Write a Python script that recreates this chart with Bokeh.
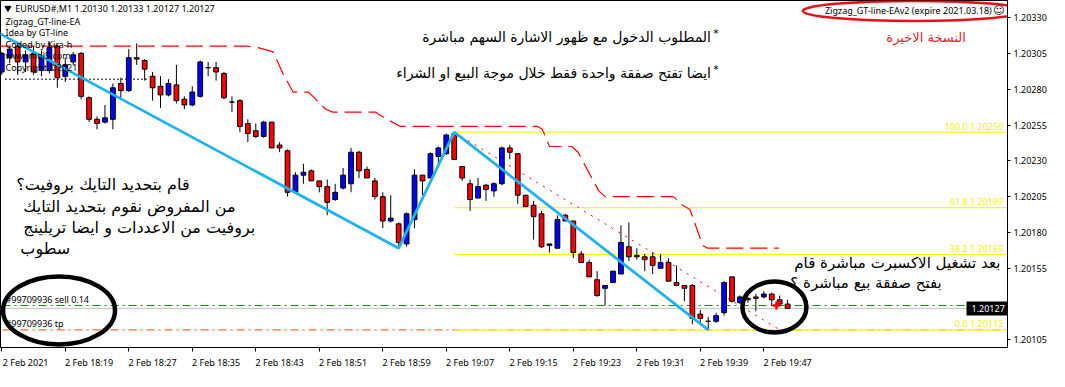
from bokeh.plotting import figure
from bokeh.models import ColumnDataSource, FixedTicker, PrintfTickFormatter, Range1d, LinearAxis
from bokeh.core.properties import value
from bokeh.embed import file_html
from bokeh.resources import INLINE

# ---------------- data ----------------
symbol = "EURUSD#,M1"
time_labels = ["2 Feb 2021", "2 Feb 18:19", "2 Feb 18:27", "2 Feb 18:35", "2 Feb 18:43",
               "2 Feb 18:51", "2 Feb 18:59", "2 Feb 19:07", "2 Feb 19:15", "2 Feb 19:23",
               "2 Feb 19:31", "2 Feb 19:39", "2 Feb 19:47"]
price_ticks = [1.20105, 1.20130, 1.20155, 1.20180, 1.20205, 1.20230, 1.20255, 1.20280, 1.20305, 1.20330]

opens = [1.20292, 1.20302, 1.20310, 1.20299, 1.20305, 1.20293, 1.20293, 1.20310, 1.20289, 1.20299,
         1.20305, 1.20274, 1.20259, 1.20257, 1.20259, 1.20284, 1.20279, 1.20302, 1.20300, 1.20289,
         1.20282, 1.20276, 1.20283, 1.20273, 1.20269, 1.20275, 1.20295, 1.20295, 1.20291, 1.20271,
         1.20272, 1.20256, 1.20251, 1.20247, 1.20257, 1.20241, 1.20237, 1.20208, 1.20220, 1.20223,
         1.20216, 1.20212, 1.20203, 1.20211, 1.20214, 1.20236, 1.20224, 1.20216, 1.20205, 1.20188,
         1.20186, 1.20172, 1.20189, 1.20220, 1.20218, 1.20233, 1.20235, 1.20249, 1.20226, 1.20214,
         1.20204, 1.20213, 1.20209, 1.20214, 1.20239, 1.20235, 1.20206, 1.20199, 1.20193, 1.20171,
         1.20169, 1.20192, 1.20188, 1.20165, 1.20159, 1.20147, 1.20141, 1.20145, 1.20151, 1.20170,
         1.20164, 1.20163, 1.20163, 1.20155, 1.20159, 1.20145, 1.20143, 1.20143, 1.20123, 1.20118,
         1.20118, 1.20124, 1.20149, 1.20131, 1.20134, 1.20135, 1.20135, 1.20137, 1.20133, 1.20130]
highs = [1.20306, 1.20310, 1.20312, 1.20307, 1.20310, 1.20307, 1.20313, 1.20311, 1.20302, 1.20306,
         1.20306, 1.20275, 1.20261, 1.20269, 1.20284, 1.20288, 1.20308, 1.20312, 1.20301, 1.20292,
         1.20289, 1.20287, 1.20297, 1.20275, 1.20282, 1.20300, 1.20299, 1.20299, 1.20292, 1.20275,
         1.20273, 1.20259, 1.20256, 1.20258, 1.20257, 1.20243, 1.20238, 1.20222, 1.20228, 1.20224,
         1.20216, 1.20217, 1.20214, 1.20225, 1.20239, 1.20237, 1.20226, 1.20218, 1.20208, 1.20206,
         1.20187, 1.20194, 1.20224, 1.20220, 1.20236, 1.20240, 1.20249, 1.20250, 1.20226, 1.20217,
         1.20218, 1.20214, 1.20215, 1.20240, 1.20241, 1.20235, 1.20206, 1.20202, 1.20195, 1.20172,
         1.20192, 1.20193, 1.20188, 1.20167, 1.20161, 1.20153, 1.20143, 1.20153, 1.20185, 1.20187,
         1.20169, 1.20165, 1.20166, 1.20165, 1.20162, 1.20157, 1.20143, 1.20144, 1.20126, 1.20121,
         1.20124, 1.20146, 1.20149, 1.20136, 1.20135, 1.20137, 1.20139, 1.20138, 1.20136, 1.20133]
lows = [1.20290, 1.20298, 1.20290, 1.20292, 1.20290, 1.20289, 1.20291, 1.20281, 1.20285, 1.20297,
        1.20273, 1.20257, 1.20252, 1.20256, 1.20252, 1.20274, 1.20278, 1.20297, 1.20286, 1.20272,
        1.20267, 1.20275, 1.20270, 1.20266, 1.20268, 1.20274, 1.20289, 1.20286, 1.20273, 1.20264,
        1.20250, 1.20243, 1.20246, 1.20246, 1.20239, 1.20236, 1.20205, 1.20207, 1.20214, 1.20216,
        1.20208, 1.20192, 1.20202, 1.20210, 1.20208, 1.20218, 1.20218, 1.20203, 1.20183, 1.20187,
        1.20169, 1.20170, 1.20183, 1.20206, 1.20218, 1.20228, 1.20234, 1.20231, 1.20216, 1.20195,
        1.20204, 1.20202, 1.20205, 1.20213, 1.20231, 1.20200, 1.20198, 1.20175, 1.20169, 1.20166,
        1.20169, 1.20188, 1.20162, 1.20159, 1.20149, 1.20135, 1.20129, 1.20145, 1.20151, 1.20160,
        1.20161, 1.20153, 1.20151, 1.20155, 1.20146, 1.20143, 1.20132, 1.20116, 1.20116, 1.20112,
        1.20117, 1.20122, 1.20131, 1.20130, 1.20131, 1.20125, 1.20134, 1.20129, 1.20129, 1.20127]
closes = [1.20305, 1.20308, 1.20299, 1.20304, 1.20292, 1.20303, 1.20309, 1.20288, 1.20297, 1.20304,
          1.20275, 1.20259, 1.20256, 1.20260, 1.20281, 1.20279, 1.20302, 1.20301, 1.20294, 1.20281,
          1.20276, 1.20284, 1.20272, 1.20269, 1.20278, 1.20299, 1.20295, 1.20292, 1.20274, 1.20271,
          1.20254, 1.20249, 1.20247, 1.20257, 1.20239, 1.20239, 1.20208, 1.20220, 1.20222, 1.20216,
          1.20212, 1.20201, 1.20208, 1.20220, 1.20236, 1.20223, 1.20218, 1.20205, 1.20188, 1.20190,
          1.20173, 1.20193, 1.20220, 1.20216, 1.20235, 1.20239, 1.20248, 1.20231, 1.20218, 1.20203,
          1.20212, 1.20210, 1.20214, 1.20239, 1.20236, 1.20206, 1.20198, 1.20191, 1.20170, 1.20172,
          1.20189, 1.20188, 1.20166, 1.20159, 1.20149, 1.20136, 1.20143, 1.20153, 1.20173, 1.20163,
          1.20163, 1.20161, 1.20157, 1.20159, 1.20146, 1.20143, 1.20141, 1.20120, 1.20120, 1.20118,
          1.20122, 1.20145, 1.20132, 1.20135, 1.20133, 1.20134, 1.20137, 1.20133, 1.20130, 1.20127]

zigzag_bar = [-1, 50, 57, 89]
zigzag_price = [1.20321, 1.20169, 1.20250, 1.20112]

stop_bar = [-1, 30.8, 32.3, 34.2, 35.5, 36.7, 38.6, 39.2, 40.8, 41.7, 47.1, 47.6, 49.2, 50.2,
            67.5, 68.1, 69.0, 71.8, 72.6, 75.2, 76.0, 84.6, 85.8, 86.7, 88.3, 88.9, 97.9]
stop_price = [1.20310, 1.20310, 1.20309, 1.20306, 1.20290, 1.20278, 1.20278, 1.20275, 1.20266,
              1.20264, 1.20264, 1.20262, 1.20257, 1.20254, 1.20254, 1.20252, 1.20240, 1.20240,
              1.20236, 1.20209, 1.20205, 1.20205, 1.20199, 1.20196, 1.20171, 1.20169, 1.20169]

trend_bar = [57, 98.3]
trend_price = [1.20250, 1.20111]

old_level_bar = [0.4, 18.3]
old_level_price = [1.20287, 1.20287]

fib_ratios = [1.0, 0.618, 0.382, 0.0]
fib_names = ["100.0", "61.8", "38.2", "0.0"]

bid_price = 1.20127
sell_price = 1.20129
tp_price = 1.20112
sell_lots = 0.14
ticket = 99709936
sell_bar = 97.6

# ---------------- figure ----------------
X0, X1 = -0.16, 126.7
Y0, Y1 = 1.200997, 1.203419

p = figure(width=1049, height=371, output_backend="svg", toolbar_location=None,
           x_range=Range1d(X0, X1), y_range=Range1d(Y0, Y1), y_axis_location="right",
           min_border_left=0, min_border_top=0, min_border_right=42, min_border_bottom=19)
p.background_fill_color = "white"
p.border_fill_color = "white"
p.outline_line_color = "black"
p.outline_line_width = 1
p.xgrid.visible = False
p.ygrid.visible = False

AX_FONT = "Noto Sans"
xt = list(range(0, 97, 8))
# MT4 style: tick marks (drawn as minor ticks) at the bars, labels starting at each tick
shift = 3.0
lab_ticks = [t + shift for t in xt]
p.xaxis.ticker = FixedTicker(ticks=lab_ticks, minor_ticks=xt)
p.xaxis.major_label_overrides = {t: lab for t, lab in zip(lab_ticks, time_labels)}
p.xaxis.major_tick_in = 0
p.xaxis.major_tick_out = 0
p.xaxis.major_tick_line_color = None
p.xaxis.minor_tick_in = 0
p.xaxis.minor_tick_out = 4
p.xaxis.minor_tick_line_color = "black"
p.xaxis.axis_line_color = "black"
p.xaxis.major_label_standoff = 4
p.xaxis.major_label_text_font = AX_FONT
p.xaxis.major_label_text_font_size = "9px"
p.xaxis.major_label_text_color = "black"

# price scale; the tick hidden under the bid box in the reference is left out
p.yaxis.ticker = FixedTicker(ticks=[t for t in price_ticks if abs(t - bid_price) > 0.0001])
p.yaxis.formatter = PrintfTickFormatter(format="%.5f")
p.yaxis.major_tick_in = 0
p.yaxis.major_tick_out = 3
p.yaxis.minor_tick_line_color = None
p.yaxis.axis_line_color = "black"
p.yaxis.major_label_standoff = 3
p.yaxis.major_label_text_font = AX_FONT
p.yaxis.major_label_text_font_size = "9px"
p.yaxis.major_label_text_color = "black"

# current bid marker on the price scale (black box with white price).
# This zero-size axis sits at the outer edge of the price scale, so its
# tick is drawn inwards and its label is pulled back towards the frame.
bid_axis = LinearAxis(fixed_location=X1,
                      ticker=FixedTicker(ticks=[bid_price], minor_ticks=[bid_price]),
                      formatter=PrintfTickFormatter(format="%.5f"),
                      major_tick_in=0, major_tick_out=0, major_tick_line_color=None,
                      minor_tick_in=41, minor_tick_out=0, minor_tick_line_width=14,
                      minor_tick_line_color="black", axis_line_color=None,
                      major_label_standoff=-36, major_label_text_color="white",
                      major_label_text_font=AX_FONT, major_label_text_font_size="9px")
p.add_layout(bid_axis, "right")


# reference-pixel -> data helpers (for annotation placement only)
def X(px):
    return (px - 3.3) / 8.0


def Y(py):
    return 1.20255 + (133.0 - py) / 150700.0


XE = X1 + 4

# trade / level lines
p.segment(x0=[X0 - 2], y0=[bid_price], x1=[XE], y1=[bid_price], line_color="#C0C0C0", line_width=1)
p.segment(x0=[X0 - 2], y0=[sell_price], x1=[XE], y1=[sell_price], line_color="#138A13",
          line_width=1, line_dash="8 4 2 4")
p.segment(x0=[X0 - 2], y0=[tp_price], x1=[XE], y1=[tp_price], line_color="#FF4500",
          line_width=1, line_dash="8 4 2 4")

# fibonacci
hi, lo = zigzag_price[2], zigzag_price[3]
fib_levels = [lo + r * (hi - lo) for r in fib_ratios]
p.segment(x0=[zigzag_bar[2]] * 4, y0=fib_levels, x1=[XE] * 4, y1=fib_levels,
          line_color="#FFFF00", line_width=1.2)
p.text(x=[X(1015)] * 4, y=fib_levels,
       text=[f"{n}  {v:.5f}" for n, v in zip(fib_names, fib_levels)],
       text_font=value(AX_FONT), text_font_size="9px", text_color="#F2F200",
       text_align="right", text_baseline="middle", y_offset=-6)

p.line(old_level_bar, old_level_price, line_color="black", line_width=1, line_dash="2 2")
p.line(stop_bar, stop_price, line_color="#FF0000", line_width=1.2, line_dash="17 7")
p.line(trend_bar, trend_price, line_color="#FF0000", line_width=1, line_dash="2 6")

# candles
n = len(opens)
src = ColumnDataSource(dict(
    x=list(range(n)), o=opens, h=highs, l=lows, c=closes,
    top=[max(a, b) for a, b in zip(opens, closes)],
    bottom=[min(a, b) for a, b in zip(opens, closes)],
    color=["#0000FF" if c > o else "#FF0000" for o, c in zip(opens, closes)],
))
p.segment(x0="x", y0="l", x1="x", y1="h", source=src, line_color="black", line_width=1)
p.vbar(x="x", width=0.6, top="top", bottom="bottom", source=src,
       fill_color="color", line_color="black", line_width=1)

# zigzag
p.line(zigzag_bar, zigzag_price, line_color="#1FB3EC", line_width=2.8)

# sell arrow
p.scatter([sell_bar], [sell_price], marker="cross", size=8, line_color="#FF0000", line_width=2.5)

# ---------------- texts ----------------
UI = value(AX_FONT)
AR = value("DejaVu Sans")
header = f"{symbol}  {opens[-1]:.5f} {highs[-1]:.5f} {lows[-1]:.5f} {closes[-1]:.5f}"
p.scatter([X(9.5)], [Y(10)], marker="inverted_triangle", size=6, fill_color="black", line_color="black")
info = [header, "Zigzag_GT-line-EA", "Idea by GT-line", "Coded by Kira-h", "www.mql5.com", "Copyright ©2021"]
p.text(x=[X(17)] + [X(7)] * 5, y=[Y(10), Y(24), Y(36), Y(48), Y(60), Y(72)], text=info,
       text_font=UI, text_font_size="9px", text_color="black",
       text_align="left", text_baseline="middle")

p.text(x=[X(1001)], y=[Y(13)], text=["Zigzag_GT-line-EAv2 (expire 2021.03.18)"],
       text_font=UI, text_font_size="9px", text_color="black",
       text_align="right", text_baseline="middle")
p.text(x=[X(1008)], y=[Y(13)], text=["☺"], text_font=value("DejaVu Sans"), text_font_size="11px",
       text_color="black", text_align="center", text_baseline="middle")

p.text(x=[X(975)], y=[Y(41)], text=["النسخة الاخيرة"], text_font=AR, text_font_size="13px",
       text_color="#E8232F", text_align="right", text_baseline="middle")

p.text(x=[X(718), X(718)], y=[Y(40), Y(78)],
       text=["المطلوب الدخول مع ظهور الاشارة السهم مباشرة",
             "ايضا تفتح صفقة واحدة فقط خلال موجة البيع او الشراء"],
       text_font=AR, text_font_size="14px", text_color="black",
       text_align="right", text_baseline="middle")
p.text(x=[X(723), X(723)], y=[Y(37), Y(75)], text=["*", "*"], text_font=AR, text_font_size="11px",
       text_color="black", text_align="center", text_baseline="middle")

p.text(x=[X(18), X(25), X(25), X(22)], y=[Y(196), Y(219), Y(241), Y(263)],
       text=["قام بتحديد التايك بروفيت؟",
             "من المفروض نقوم بتحديد التايك",
             "بروفيت من الاعددات و ايضا تريلينج",
             "سطوب"],
       text_font=AR, text_font_size="16px", text_color="black",
       text_align="left", text_baseline="middle")

p.text(x=[X(802), X(798)], y=[Y(278), Y(299)],
       text=["بعد  تشغيل الاكسبرت مباشرة  قام", "بفتح صفقة بيع مباشرة ؟"],
       text_font=AR, text_font_size="15px", text_color="black",
       text_align="left", text_baseline="middle")

p.text(x=[X(7), X(7)], y=[Y(317), Y(342)],
       text=[f"#{ticket} sell {sell_lots:.2f}", f"#{ticket} tp"],
       text_font=UI, text_font_size="9px", text_color="black",
       text_align="left", text_baseline="middle")

# ellipses
p.ellipse(x=[X(61), X(782)], y=[Y(328), Y(324.5)], width=[112, 64], height=[68, 51],
          width_units="screen", height_units="screen",
          fill_color=None, line_color="black", line_width=4.5)
p.ellipse(x=[X(923)], y=[Y(13)], width=[223], height=[20],
          width_units="screen", height_units="screen",
          fill_color=None, line_color="#E8101A", line_width=2.5)

open("out.html", "w").write(file_html(p, INLINE))
